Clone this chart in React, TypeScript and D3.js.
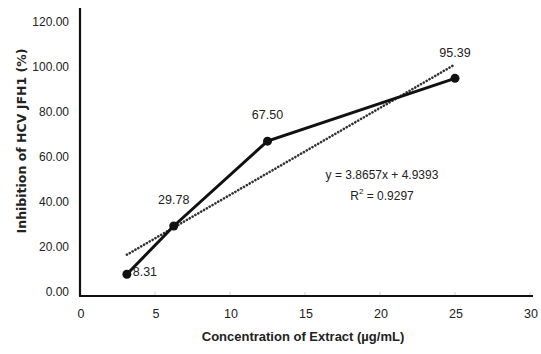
import React from 'react';
import * as d3 from 'd3';

// concentration (ug/mL) and inhibition (%)
const concentrations = [3.125, 6.25, 12.5, 25];
const inhibitions = [8.31, 29.78, 67.5, 95.39];
const pointLabels = ['8.31', '29.78', '67.50', '95.39'];
const xTicks = [0, 5, 10, 15, 20, 25, 30];
const yTicks = [0, 20, 40, 60, 80, 100, 120];
const slope = 3.8657;
const intercept = 4.9393;
const equationText = 'y = 3.8657x + 4.9393';
const r2Text = '0.9297';

const width = 541;
const height = 354;
const font = "'Liberation Sans', Arial, sans-serif";

export default function App() {
  const x = d3.scaleLinear().domain([0, 30]).range([80, 530]);
  const y = d3.scaleLinear().domain([0, 120]).range([293, 23]);

  const pts: [number, number][] = concentrations.map((c, i) => [c, inhibitions[i]]);
  const line = d3.line<[number, number]>()
    .x(d => x(d[0]))
    .y(d => y(d[1]));

  const x0 = concentrations[0];
  const x1 = concentrations[concentrations.length - 1];
  const trend: [number, number][] = [[x0, slope * x0 + intercept], [x1, slope * x1 + intercept]];

  // label offsets per point
  const labelPos = [
    { dx: 18, dy: -2 },
    { dx: 0, dy: -25 },
    { dx: 0, dy: -25 },
    { dx: 0, dy: -25 },
  ];

  return (
    <svg width={width} height={height} style={{ display: 'block', position: 'absolute', left: 0, top: 0, background: '#fff' }}>
      <rect width={width} height={height} fill="#fff" />
      <g fontFamily={font} fill="#222">
        {/* faint x ticks */}
        {xTicks.slice(1).map(t => (
          <line key={'xt' + t} x1={x(t)} x2={x(t)} y1={292} y2={296} stroke="#ccc" strokeWidth={1} />
        ))}
        {/* axes */}
        <line x1={x(0)} x2={x(0)} y1={8} y2={296} stroke="#111" strokeWidth={2.2} />
        <line x1={x(0) - 1} x2={533} y1={296} y2={296} stroke="#111" strokeWidth={2.2} />

        {yTicks.map(t => (
          <text key={'yl' + t} x={69} y={y(t)} textAnchor="end" dominantBaseline="middle" fontSize={12}>
            {t.toFixed(2)}
          </text>
        ))}
        {xTicks.map(t => (
          <text key={'xl' + t} x={x(t) + 1} y={315} textAnchor="middle" dominantBaseline="middle" fontSize={12.5}>
            {t}
          </text>
        ))}

        {/* trendline */}
        <path d={line(trend) || ''} fill="none" stroke="#333" strokeWidth={2.6}
          strokeDasharray="0.1 3.2" strokeLinecap="round" />

        {/* data */}
        <path d={line(pts) || ''} fill="none" stroke="#111" strokeWidth={3} />
        {pts.map((d, i) => (
          <circle key={'p' + i} cx={x(d[0])} cy={y(d[1])} r={4.5} fill="#111" />
        ))}
        {pts.map((d, i) => (
          <text key={'l' + i} x={x(d[0]) + labelPos[i].dx} y={y(d[1]) + labelPos[i].dy}
            textAnchor="middle" dominantBaseline="middle" fontSize={12.5}>
            {pointLabels[i]}
          </text>
        ))}

        <text x={382} y={176} textAnchor="middle" dominantBaseline="middle" fontSize={12}>
          {equationText}
        </text>
        <text x={382} y={197} textAnchor="middle" dominantBaseline="middle" fontSize={12}>
          R<tspan dy={-5} fontSize={8}>2</tspan><tspan dy={5}> = {r2Text}</tspan>
        </text>

        <text x={303} y={338} textAnchor="middle" dominantBaseline="middle" fontSize={13} fontWeight="bold">
          Concentration of Extract (µg/mL)
        </text>
        <text transform={`translate(22,141) rotate(-90)`} textAnchor="middle" dominantBaseline="middle"
          fontSize={12.5} fontWeight="bold" fontFamily="'DejaVu Sans', sans-serif">
          Inhibition of HCV JFH1 (%)
        </text>
      </g>
    </svg>
  );
}
